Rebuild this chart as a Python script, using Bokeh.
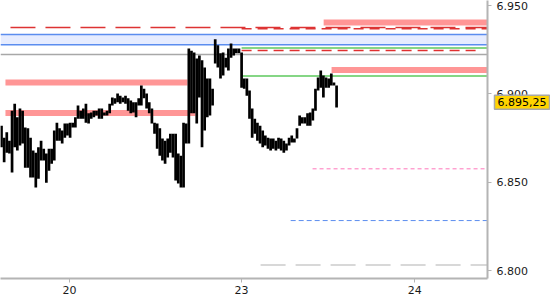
from bokeh.plotting import figure
from bokeh.models import FixedTicker, Label, Range1d, BoxAnnotation, ColumnDataSource
from bokeh.embed import file_html
from bokeh.resources import INLINE

# ---- price bars, high / low in time order ----
highs = [6882, 6875.25, 6878.25, 6873.5, 6890.5, 6894.5, 6886.75, 6891.75, 6890.5, 6881,
         6880.5, 6875.25, 6868, 6866.75, 6869.75, 6873.5, 6869, 6866.25, 6869, 6869,
         6879.25, 6883.75, 6880.5, 6879.25, 6883.25, 6883.25, 6883.75, 6883.75, 6886.75, 6893.5,
         6890.5, 6891.75, 6894.5, 6889, 6889.5, 6890.5, 6890.5, 6891.75, 6891.75, 6889.5,
         6890.5, 6894.5, 6898, 6897.5, 6900.25, 6899, 6898, 6899, 6897.5, 6896.25,
         6895.25, 6895.25, 6897.5, 6904.75, 6903, 6900.25, 6895.25, 6891.75, 6883.75, 6883.25,
         6880.5, 6874.75, 6873.5, 6874.75, 6877.5, 6877.5, 6877.5, 6866.25, 6865, 6883.75,
         6883.25, 6925.75, 6924.5, 6923.5, 6920, 6921.75, 6919, 6915, 6908.75, 6908.75,
         6903, 6931, 6927.5, 6923, 6923.5, 6920.5, 6925.75, 6928.5, 6925.75, 6925.75,
         6925.75, 6923.5, 6908.75, 6908.75, 6902, 6891.75, 6886, 6883.75, 6882, 6879.25,
         6876.5, 6875.25, 6874.75, 6874.75, 6873.5, 6875.25, 6874.75, 6873.5, 6872, 6875.25,
         6876.5, 6874.75, 6880.5, 6887.75, 6886.75, 6886.75, 6889, 6889.5, 6891.75, 6903,
         6909.25, 6913.25, 6910.5, 6909.25, 6908.75, 6911.5, 6906.5, 6904.75]
lows = [6869.75, 6861.25, 6866.75, 6866.25, 6855.5, 6869.75, 6868, 6870.75, 6872, 6858.25,
        6858.25, 6852.75, 6852.75, 6847, 6852, 6862.25, 6862.25, 6849.75, 6856.5, 6860.5,
        6862.25, 6873.5, 6873.5, 6872, 6875.25, 6876.5, 6875.25, 6881, 6881, 6886,
        6886, 6886, 6883.75, 6883.25, 6886, 6886.75, 6887.75, 6886, 6886, 6887.75,
        6887.75, 6889, 6893.5, 6894.5, 6895.25, 6894.5, 6895.25, 6894.5, 6890.5, 6889,
        6889.5, 6886.75, 6893.5, 6893.5, 6897.5, 6891.75, 6889, 6883.25, 6877.5, 6869,
        6865, 6862.25, 6860.5, 6864, 6866.75, 6864, 6851, 6849.25, 6847, 6847,
        6872, 6872, 6889, 6889, 6883.25, 6898, 6869.75, 6879.25, 6886.75, 6887.75,
        6893.5, 6917.25, 6915, 6908.75, 6910.5, 6915, 6913.25, 6920.5, 6921.75, 6923,
        6923, 6903.5, 6903, 6899, 6886, 6875.25, 6877.5, 6873.5, 6872, 6869.75,
        6870.75, 6869, 6868, 6869, 6868, 6869, 6868, 6866.75, 6868, 6870.75,
        6872.5, 6872.5, 6874.75, 6882, 6883.25, 6883.25, 6882, 6882, 6885, 6890.5,
        6902, 6903.5, 6898, 6903.5, 6903.5, 6904.75, 6904.75, 6892.25]
last_price = 6895.25
last_price_text = "6.895,25"

# ---- x axis (bar index) day labels ----
day_ticks = [25.8, 91.0, 156.6]
day_labels = ["20", "23", "24"]

# ---- y axis ticks ----
price_ticks = [6800, 6850, 6900, 6950]
price_labels = ["6.800", "6.850", "6.900", "6.950"]

# ---- horizontal level zones (thick salmon bands) ----
band_levels = [6906.5, 6889.25, 6940.5, 6913.5]
band_starts = [1.5, 1.5, 122.1, 125.1]
band_ends = [70.5, 73.5, 184.2, 184.2]

# ---- blue value area ----
zone_top = 6933.6
zone_bottom = 6927.9

X_MIN, X_MAX = -0.38, 184.2
Y_MIN, Y_MAX = 6795.5, 6952.9

p = figure(frame_width=487, frame_height=278,
           x_range=Range1d(X_MIN, X_MAX), y_range=Range1d(Y_MIN, Y_MAX),
           y_axis_location="right", output_backend="svg", toolbar_location=None,
           min_border_left=0, min_border_top=0, min_border_right=63, min_border_bottom=22)
p.background_fill_color = "white"
p.border_fill_color = "white"
p.outline_line_color = None
p.grid.visible = False

# blue zone
p.add_layout(BoxAnnotation(bottom=zone_bottom, top=zone_top, fill_color="#E6ECFF",
                           fill_alpha=1.0, line_color=None, level="underlay"))
p.segment(x0=[X_MIN, X_MIN], x1=[X_MAX, X_MAX], y0=[zone_top, zone_bottom],
          y1=[zone_top, zone_bottom], line_color="#5B8DEF", line_width=1.5)

# salmon bands
p.segment(x0=band_starts, x1=band_ends, y0=band_levels, y1=band_levels,
          line_color="#FF9696", line_width=6)

# red dashed resistance lines
p.segment(x0=[3.4], x1=[X_MAX], y0=[6937.6], y1=[6937.6], line_color="#DD3333",
          line_width=1.5, line_dash="25 10")
p.segment(x0=[91.0], x1=[X_MAX], y0=[6936.9], y1=[6936.9], line_color="#DD3333",
          line_width=1.5, line_dash="10 6")
p.segment(x0=[91.0], x1=[180.4], y0=[6924.6], y1=[6924.6], line_color="#E03030",
          line_width=1.5, line_dash="10 6")

# green lines
p.segment(x0=[91.0, 91.0], x1=[X_MAX, X_MAX], y0=[6926.0, 6910.2], y1=[6926.0, 6910.2],
          line_color="#5CC85C", line_width=1.5)

# gray line
p.segment(x0=[X_MIN], x1=[X_MAX], y0=[6922.3], y1=[6922.3], line_color="#A8A8A8",
          line_width=1.5)

# lower dashed levels
p.segment(x0=[117.9], x1=[X_MAX], y0=[6857.6], y1=[6857.6], line_color="#FF77BB",
          line_width=1, line_dash="4 3")
p.segment(x0=[109.6], x1=[X_MAX], y0=[6828.3], y1=[6828.3], line_color="#5B8DEF",
          line_width=1, line_dash="5 3")
p.segment(x0=[98.2], x1=[X_MAX], y0=[6803.2], y1=[6803.2], line_color="#CCCCCC",
          line_width=1.5, line_dash="25 10")

# price bars
idx = list(range(len(highs)))
src = ColumnDataSource(dict(x=idx, h=highs, l=lows))
p.segment(x0="x", x1="x", y0="l", y1="h", source=src, line_color="black", line_width=2.7)

# axes
p.xaxis.ticker = FixedTicker(ticks=day_ticks)
p.xaxis.major_label_overrides = dict(zip(day_ticks, day_labels))
p.yaxis.ticker = FixedTicker(ticks=price_ticks)
p.yaxis.major_label_overrides = dict(zip(price_ticks, price_labels))
for ax in (p.xaxis, p.yaxis):
    ax.axis_line_color = "#B4B4B4"
    ax.axis_line_width = 2
    ax.major_tick_line_color = "#B4B4B4"
    ax.major_tick_line_width = 1
    ax.major_tick_out = 4
    ax.major_tick_in = 0
    ax.minor_tick_line_color = None
    ax.major_label_text_font = "DejaVu Sans"
    ax.major_label_text_font_size = "11px"
    ax.major_label_text_color = "#1a1a1a"
p.xaxis.major_label_standoff = 3
p.yaxis.major_label_standoff = 5

# last price label, placed in the right side panel so it is not clipped to the frame
p.add_layout(Label(x=494, y=last_price, x_units="canvas", y_units="data",
                   text=last_price_text, text_font="DejaVu Sans", text_font_size="11px",
                   text_color="black", text_align="left", text_baseline="middle",
                   background_fill_color="#FFD400", border_line_color="#A8A8A8",
                   border_line_width=1.5, padding=3), "right")

open("out.html", "w").write(file_html(p, INLINE))
